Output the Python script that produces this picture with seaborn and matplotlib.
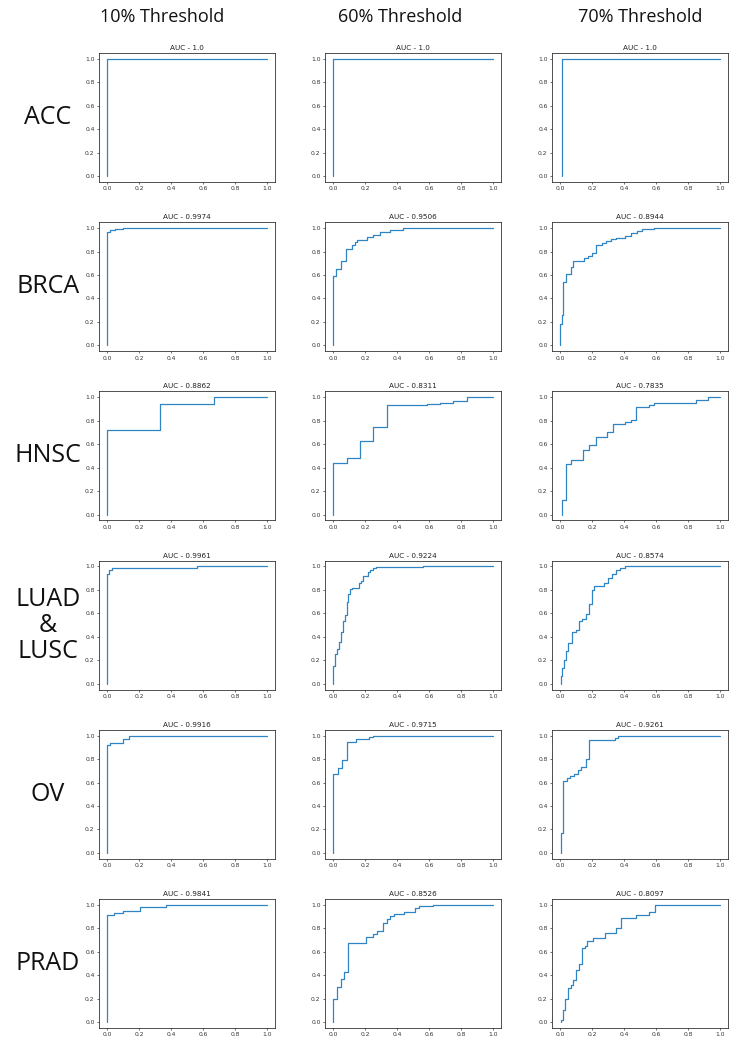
import numpy as np
import pandas as pd
import matplotlib
matplotlib.use('Agg')
import matplotlib.pyplot as plt
import seaborn as sns

# column / row labels
thresholds = ['10% Threshold', '60% Threshold', '70% Threshold']
cancers = ['ACC', 'BRCA', 'HNSC', 'LUAD\n&\nLUSC', 'OV', 'PRAD']

# AUC values per row (cancer) and column (threshold)
auc_acc = ['1.0', '1.0', '1.0']
auc_brca = ['0.9974', '0.9506', '0.8944']
auc_hnsc = ['0.8862', '0.8311', '0.7835']
auc_luad = ['0.9961', '0.9224', '0.8574']
auc_ov = ['0.9916', '0.9715', '0.9261']
auc_prad = ['0.9841', '0.8526', '0.8097']

# ROC corner points (fpr, tpr)
acc_10_fpr = [0.0, 0.0, 1.0]
acc_10_tpr = [0.0, 1.0, 1.0]
acc_60_fpr = [0.0, 0.0, 1.0]
acc_60_tpr = [0.0, 1.0, 1.0]
acc_70_fpr = [0.01, 0.01, 1.0]
acc_70_tpr = [0.0, 1.0, 1.0]

brca_10_fpr = [0.0, 0.0, 0.02, 0.02, 0.05, 0.05, 0.1, 0.1, 1.0]
brca_10_tpr = [0.0, 0.97, 0.97, 0.98, 0.98, 0.99, 0.99, 1.0, 1.0]
brca_60_fpr = [0.0, 0.0, 0.02, 0.02, 0.048, 0.048, 0.081, 0.081, 0.117, 0.117,
               0.138, 0.138, 0.148, 0.148, 0.21, 0.21, 0.252, 0.252, 0.294, 0.294,
               0.356, 0.356, 0.435, 0.435, 1.0]
brca_60_tpr = [0.0, 0.594, 0.594, 0.65, 0.65, 0.72, 0.72, 0.82, 0.82, 0.858,
               0.858, 0.88, 0.88, 0.9, 0.9, 0.922, 0.922, 0.94, 0.94, 0.97,
               0.97, 0.985, 0.985, 1.0, 1.0]
brca_70_fpr = [0.0, 0.0, 0.012, 0.012, 0.019, 0.019, 0.035, 0.035, 0.071, 0.071,
               0.083, 0.083, 0.15, 0.15, 0.177, 0.177, 0.202, 0.202, 0.223, 0.223,
               0.265, 0.265, 0.285, 0.285, 0.317, 0.317, 0.348, 0.348, 0.406, 0.406,
               0.442, 0.442, 0.483, 0.483, 0.515, 0.515, 0.588, 0.588, 1.0]
brca_70_tpr = [0.0, 0.18, 0.18, 0.26, 0.26, 0.539, 0.539, 0.611, 0.611, 0.664,
               0.664, 0.72, 0.72, 0.742, 0.742, 0.764, 0.764, 0.79, 0.79, 0.853,
               0.853, 0.875, 0.875, 0.892, 0.892, 0.908, 0.908, 0.917, 0.917, 0.93,
               0.93, 0.955, 0.955, 0.972, 0.972, 0.992, 0.992, 1.0, 1.0]

hnsc_10_fpr = [0.0, 0.0, 0.333, 0.333, 0.667, 0.667, 1.0]
hnsc_10_tpr = [0.0, 0.72, 0.72, 0.94, 0.94, 1.0, 1.0]
hnsc_60_fpr = [0.0, 0.0, 0.085, 0.085, 0.169, 0.169, 0.252, 0.252, 0.335, 0.335,
               0.585, 0.585, 0.669, 0.669, 0.752, 0.752, 0.835, 0.835, 1.0]
hnsc_60_tpr = [0.0, 0.436, 0.436, 0.478, 0.478, 0.63, 0.63, 0.75, 0.75, 0.93,
               0.93, 0.94, 0.94, 0.955, 0.955, 0.97, 0.97, 1.0, 1.0]
hnsc_70_fpr = [0.01, 0.01, 0.035, 0.035, 0.071, 0.071, 0.146, 0.146, 0.181, 0.181,
               0.223, 0.223, 0.296, 0.296, 0.331, 0.331, 0.406, 0.406, 0.442, 0.442,
               0.477, 0.477, 0.556, 0.556, 0.588, 0.588, 0.848, 0.848, 0.927, 0.927, 1.0]
hnsc_70_tpr = [0.0, 0.12, 0.12, 0.43, 0.43, 0.464, 0.464, 0.553, 0.553, 0.589,
               0.589, 0.658, 0.658, 0.706, 0.706, 0.775, 0.775, 0.792, 0.792, 0.81,
               0.81, 0.914, 0.914, 0.931, 0.931, 0.95, 0.95, 0.978, 0.978, 1.0, 1.0]

luad_10_fpr = [0.0, 0.0, 0.01, 0.01, 0.03, 0.03, 0.56, 0.56, 1.0]
luad_10_tpr = [0.0, 0.94, 0.94, 0.97, 0.97, 0.99, 0.99, 1.0, 1.0]
luad_60_fpr = [0.0, 0.0, 0.01, 0.01, 0.025, 0.025, 0.04, 0.04, 0.05, 0.05,
               0.065, 0.065, 0.075, 0.075, 0.085, 0.085, 0.096, 0.096, 0.106, 0.106,
               0.117, 0.117, 0.163, 0.163, 0.175, 0.175, 0.19, 0.19, 0.217, 0.217,
               0.231, 0.231, 0.248, 0.248, 0.269, 0.269, 0.565, 0.565, 1.0]
luad_60_tpr = [0.0, 0.15, 0.15, 0.25, 0.25, 0.3, 0.3, 0.36, 0.36, 0.439,
               0.439, 0.533, 0.533, 0.583, 0.583, 0.70, 0.70, 0.764, 0.764, 0.806,
               0.806, 0.82, 0.82, 0.861, 0.861, 0.88, 0.88, 0.92, 0.92, 0.953,
               0.953, 0.97, 0.97, 0.985, 0.985, 0.994, 0.994, 1.0, 1.0]
luad_70_fpr = [0.005, 0.005, 0.015, 0.015, 0.025, 0.025, 0.035, 0.035, 0.052, 0.052,
               0.077, 0.077, 0.098, 0.098, 0.119, 0.119, 0.14, 0.14, 0.16, 0.16,
               0.181, 0.181, 0.198, 0.198, 0.213, 0.213, 0.275, 0.275, 0.3, 0.3,
               0.327, 0.327, 0.352, 0.352, 0.377, 0.377, 0.406, 0.406, 1.0]
luad_70_tpr = [0.0, 0.07, 0.07, 0.13, 0.13, 0.2, 0.2, 0.28, 0.28, 0.347,
               0.347, 0.444, 0.444, 0.458, 0.458, 0.533, 0.533, 0.55, 0.55, 0.597,
               0.597, 0.681, 0.681, 0.797, 0.797, 0.833, 0.833, 0.861, 0.861, 0.903,
               0.903, 0.94, 0.94, 0.972, 0.972, 0.986, 0.986, 1.0, 1.0]

ov_10_fpr = [0.0, 0.0, 0.02, 0.02, 0.1, 0.1, 0.14, 0.14, 1.0]
ov_10_tpr = [0.0, 0.92, 0.92, 0.94, 0.94, 0.97, 0.97, 1.0, 1.0]
ov_60_fpr = [0.0, 0.0, 0.033, 0.033, 0.058, 0.058, 0.085, 0.085, 0.142, 0.142,
             0.227, 0.227, 0.252, 0.252, 1.0]
ov_60_tpr = [0.0, 0.672, 0.672, 0.722, 0.722, 0.792, 0.792, 0.944, 0.944, 0.972,
             0.972, 0.986, 0.986, 1.0, 1.0]
ov_70_fpr = [0.005, 0.005, 0.021, 0.021, 0.042, 0.042, 0.06, 0.06, 0.088, 0.088,
             0.112, 0.112, 0.133, 0.133, 0.16, 0.16, 0.181, 0.181, 0.344, 0.344,
             0.363, 0.363, 1.0]
ov_70_tpr = [0.0, 0.17, 0.17, 0.611, 0.611, 0.639, 0.639, 0.658, 0.658, 0.672,
             0.672, 0.703, 0.703, 0.736, 0.736, 0.8, 0.8, 0.967, 0.967, 0.98,
             0.98, 1.0, 1.0]

prad_10_fpr = [0.0, 0.0, 0.046, 0.046, 0.102, 0.102, 0.206, 0.206, 0.367, 0.367, 1.0]
prad_10_tpr = [0.0, 0.91, 0.91, 0.927, 0.927, 0.95, 0.95, 0.985, 0.985, 1.0, 1.0]
prad_60_fpr = [0.0, 0.0, 0.027, 0.027, 0.048, 0.048, 0.071, 0.071, 0.096, 0.096,
               0.204, 0.204, 0.248, 0.248, 0.273, 0.273, 0.315, 0.315, 0.335, 0.335,
               0.356, 0.356, 0.383, 0.383, 0.446, 0.446, 0.513, 0.513, 0.538, 0.538,
               0.623, 0.623, 1.0]
prad_60_tpr = [0.0, 0.196, 0.196, 0.30, 0.30, 0.37, 0.37, 0.429, 0.429, 0.672,
               0.672, 0.723, 0.723, 0.748, 0.748, 0.779, 0.779, 0.846, 0.846, 0.877,
               0.877, 0.902, 0.902, 0.919, 0.919, 0.936, 0.936, 0.972, 0.972, 0.989,
               0.989, 1.0, 1.0]
prad_70_fpr = [0.005, 0.005, 0.02, 0.02, 0.031, 0.031, 0.052, 0.052, 0.067, 0.067,
               0.083, 0.083, 0.102, 0.102, 0.119, 0.119, 0.135, 0.135, 0.154, 0.154,
               0.171, 0.171, 0.208, 0.208, 0.279, 0.279, 0.348, 0.348, 0.383, 0.383,
               0.473, 0.473, 0.556, 0.556, 0.594, 0.594, 1.0]
prad_70_tpr = [0.0, 0.02, 0.02, 0.1, 0.1, 0.2, 0.2, 0.294, 0.294, 0.317,
               0.317, 0.356, 0.356, 0.448, 0.448, 0.496, 0.496, 0.63, 0.63, 0.653,
               0.653, 0.692, 0.692, 0.714, 0.714, 0.756, 0.756, 0.804, 0.804, 0.891,
               0.891, 0.91, 0.91, 0.938, 0.938, 1.0, 1.0]

curves = [
    [(acc_10_fpr, acc_10_tpr), (acc_60_fpr, acc_60_tpr), (acc_70_fpr, acc_70_tpr)],
    [(brca_10_fpr, brca_10_tpr), (brca_60_fpr, brca_60_tpr), (brca_70_fpr, brca_70_tpr)],
    [(hnsc_10_fpr, hnsc_10_tpr), (hnsc_60_fpr, hnsc_60_tpr), (hnsc_70_fpr, hnsc_70_tpr)],
    [(luad_10_fpr, luad_10_tpr), (luad_60_fpr, luad_60_tpr), (luad_70_fpr, luad_70_tpr)],
    [(ov_10_fpr, ov_10_tpr), (ov_60_fpr, ov_60_tpr), (ov_70_fpr, ov_70_tpr)],
    [(prad_10_fpr, prad_10_tpr), (prad_60_fpr, prad_60_tpr), (prad_70_fpr, prad_70_tpr)],
]
aucs = [auc_acc, auc_brca, auc_hnsc, auc_luad, auc_ov, auc_prad]

sns.set_theme(style='ticks', rc={
    'axes.edgecolor': '#333333',
    'axes.linewidth': 0.6,
    'xtick.major.size': 1.6,
    'ytick.major.size': 1.6,
    'xtick.major.width': 0.5,
    'ytick.major.width': 0.5,
    'xtick.major.pad': 1.6,
    'ytick.major.pad': 1.6,
    'xtick.labelsize': 4.3,
    'ytick.labelsize': 4.3,
    'xtick.color': '#333333',
    'ytick.color': '#333333',
})
plt.rcParams['font.family'] = ['DejaVu Sans']

W, H = 729, 1043
fig = plt.figure(figsize=(W / 100, H / 100), dpi=100)

# layout in pixels
col_left = [99, 325, 552]
ax_w = 176
ax_h = 129
row_top0 = 53
row_step = 169.2

for r in range(6):
    for c in range(3):
        top = row_top0 + r * row_step
        ax = fig.add_axes([col_left[c] / W, 1 - (top + ax_h) / H, ax_w / W, ax_h / H])
        fpr, tpr = curves[r][c]
        df = pd.DataFrame({'fpr': fpr, 'tpr': tpr})
        sns.lineplot(data=df, x='fpr', y='tpr', ax=ax, sort=False, estimator=None,
                     color='#2f84c4', linewidth=0.9)
        ax.set_xlim(-0.05, 1.05)
        ax.set_ylim(-0.05, 1.05)
        ax.set_xticks(np.arange(0, 1.01, 0.2))
        ax.set_yticks(np.arange(0, 1.01, 0.2))
        ax.set_xlabel('')
        ax.set_ylabel('')
        ax.set_title('AUC - ' + aucs[r][c], fontsize=5.2, pad=2.2, color='#222222')
        for s in ax.spines.values():
            s.set_visible(True)

# column headers
header_x = [162, 400, 640]
for c in range(3):
    fig.text(header_x[c] / W, 1 - 17 / H, thresholds[c], ha='center', va='center',
             fontsize=13, family=['Open Sans', 'DejaVu Sans'], color='#111111')

# row labels
for r in range(6):
    yc = row_top0 + r * row_step + ax_h / 2
    fig.text(48 / W, 1 - yc / H, cancers[r], ha='center', va='center',
             fontsize=18, family=['Open Sans', 'DejaVu Sans'], color='#111111',
             linespacing=1.05)

fig.savefig('out.png', dpi=100)
